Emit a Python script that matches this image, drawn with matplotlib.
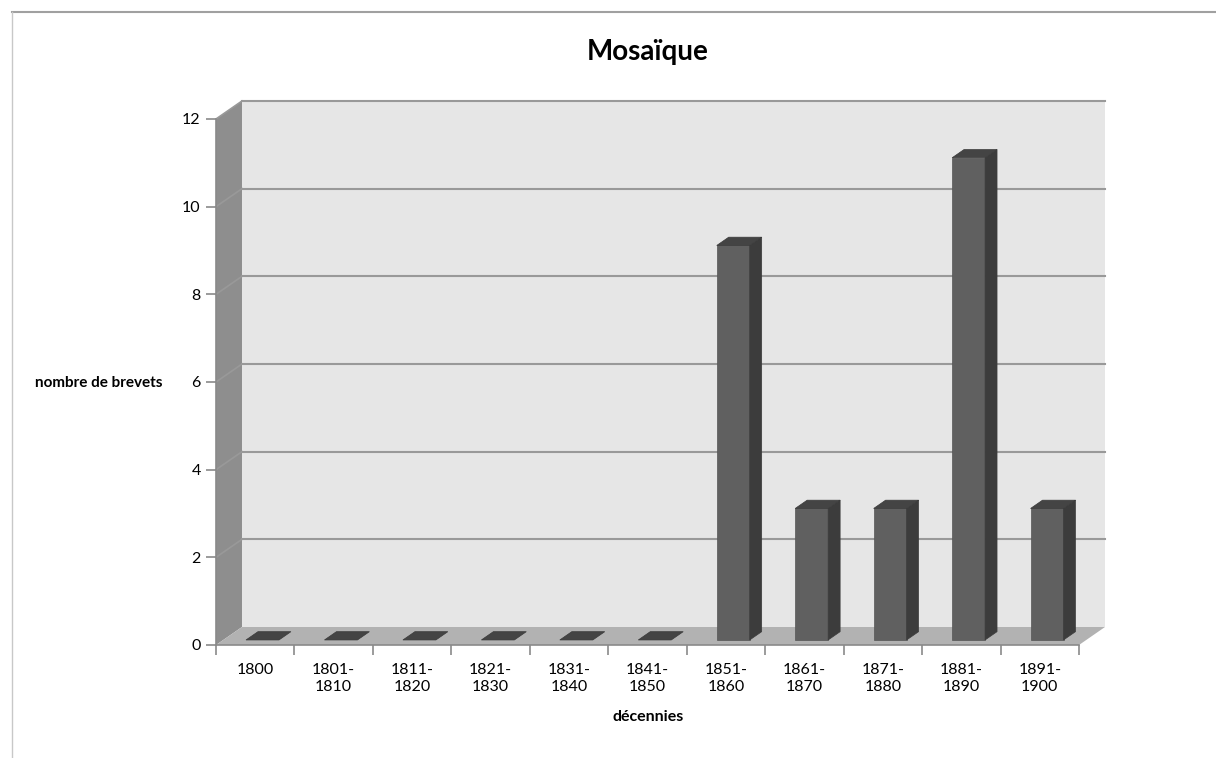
import matplotlib.pyplot as plt
from matplotlib.patches import Polygon
from matplotlib.lines import Line2D

# data
decades = ['1800', '1801-\n1810', '1811-\n1820', '1821-\n1830', '1831-\n1840',
           '1841-\n1850', '1851-\n1860', '1861-\n1870', '1871-\n1880',
           '1881-\n1890', '1891-\n1900']
brevets = [0, 0, 0, 0, 0, 0, 9, 3, 3, 11, 3]
yticks = [0, 2, 4, 6, 8, 10, 12]

plt.rcParams['font.family'] = ['Lato', 'DejaVu Sans']

W, H = 1216, 758
fig = plt.figure(figsize=(W / 100, H / 100), dpi=100)
ax = fig.add_axes([216 / W, 1 - 645 / H, (1079 - 216) / W, (645 - 119) / H])
n = len(decades)
ax.set_xlim(-0.5, n - 0.5)
ax.set_ylim(0, 12)

# depth of the 3d box in data units
ddx = 26 / 78.5
ddy = 18 / 43.83
x0, x1 = -0.5, n - 0.5

wall_c = '#e6e6e6'
floor_c = '#b2b2b2'
side_c = '#8e8e8e'
edge_c = '#999999'

# back wall
ax.add_patch(Polygon([(x0 + ddx, ddy), (x1 + ddx, ddy), (x1 + ddx, 12 + ddy), (x0 + ddx, 12 + ddy)],
                     closed=True, fc=wall_c, ec='none', clip_on=False, zorder=0))
# left wall
ax.add_patch(Polygon([(x0, 0), (x0 + ddx, ddy), (x0 + ddx, 12 + ddy), (x0, 12)],
                     closed=True, fc=side_c, ec='none', clip_on=False, zorder=0))
# floor
ax.add_patch(Polygon([(x0, 0), (x1, 0), (x1 + ddx, ddy), (x0 + ddx, ddy)],
                     closed=True, fc=floor_c, ec='none', clip_on=False, zorder=0.5))

# gridlines (back wall + side wall)
for v in yticks[1:]:
    ax.plot([x0 + ddx, x1 + ddx], [v + ddy, v + ddy], color=edge_c, lw=1.5, clip_on=False, zorder=1)
    ax.plot([x0, x0 + ddx], [v, v + ddy], color=edge_c, lw=1.2, clip_on=False, zorder=1)

# bars
f0, f1 = 0.28, 0.74
bw = 33 / 78.5
for i, v in enumerate(brevets):
    xl = i - bw / 2 + f0 * ddx
    xr = xl + bw
    yb = f0 * ddy
    ox = (f1 - f0) * ddx
    oy = (f1 - f0) * ddy
    if v > 0:
        ax.add_patch(Polygon([(xl, yb), (xr, yb), (xr, yb + v), (xl, yb + v)],
                             closed=True, fc='#606060', ec='#555555', lw=0.5, zorder=3))
        ax.add_patch(Polygon([(xr, yb), (xr + ox, yb + oy), (xr + ox, yb + v + oy), (xr, yb + v)],
                             closed=True, fc='#3c3c3c', ec='#3c3c3c', lw=0.5, zorder=3))
    ax.add_patch(Polygon([(xl, yb + v), (xr, yb + v), (xr + ox, yb + v + oy), (xl + ox, yb + v + oy)],
                         closed=True, fc='#444444', ec='#3a3a3a', lw=0.5, zorder=3, clip_on=False))

# axes styling
for s in ['top', 'right']:
    ax.spines[s].set_visible(False)
for s in ['left', 'bottom']:
    ax.spines[s].set_color('#8a8a8a')
    ax.spines[s].set_linewidth(1.2)
ax.patch.set_visible(False)

ax.set_yticks(yticks)
ax.tick_params(axis='y', length=7, width=1.2, color='#8a8a8a', pad=4, labelsize=11.5)
ax.set_xticks([i - 0.5 for i in range(n + 1)])
ax.set_xticklabels([])
ax.set_xticks(range(n), minor=True)
ax.set_xticklabels(decades, minor=True, fontsize=11.5, linespacing=1.25)
ax.tick_params(axis='x', which='major', length=7, width=1.2, color='#8a8a8a')
ax.tick_params(axis='x', which='minor', length=0, pad=13)

fig.text(648 / W, 1 - 52 / H, 'Mosaïque', ha='center', va='center', fontsize=20, fontweight='bold')
fig.text(99 / W, 1 - 383 / H, 'nombre de brevets', ha='center', va='center', fontsize=11, fontweight='bold')
fig.text(648 / W, 1 - 717 / H, 'décennies', ha='center', va='center', fontsize=11.5, fontweight='bold')

# outer chart border
fig.add_artist(Line2D([12 / W, 1], [1 - 12 / H, 1 - 12 / H], color='#a0a0a0', lw=1.5))
fig.add_artist(Line2D([12 / W, 12 / W], [0, 1 - 12 / H], color='#c8c8c8', lw=1))

fig.savefig('out.png', dpi=100)
